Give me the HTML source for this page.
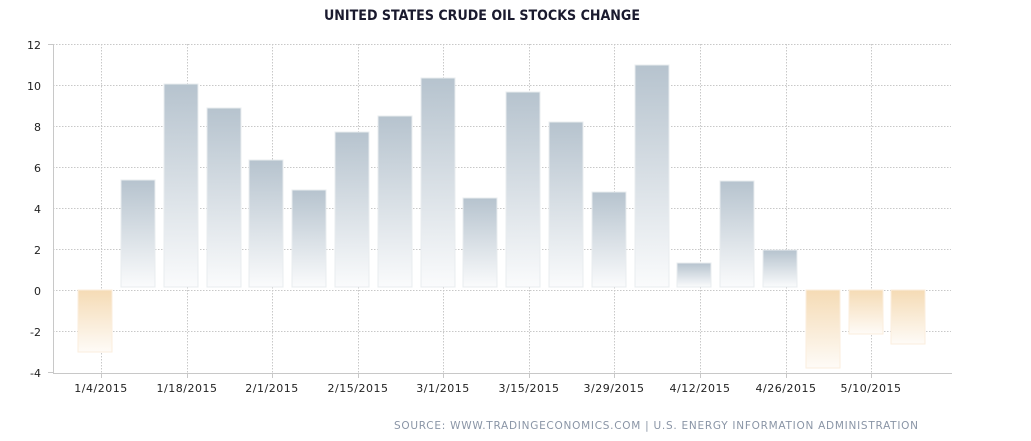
<!DOCTYPE html>
<html><head><meta charset="utf-8"><style>
html,body{margin:0;padding:0;background:#fff;width:1031px;height:441px;overflow:hidden}
svg{display:block}
text{font-family:"DejaVu Sans","Liberation Sans",sans-serif}
</style></head><body>
<svg width="1031" height="441" viewBox="0 0 1031 441" xmlns="http://www.w3.org/2000/svg">
<defs>
<linearGradient id="gp" x1="0" y1="0" x2="0" y2="1"><stop offset="0" stop-color="#b6c3ce"/><stop offset="1" stop-color="#fafbfc"/></linearGradient>
<linearGradient id="gn" x1="0" y1="0" x2="0" y2="1"><stop offset="0" stop-color="#f5dbb5"/><stop offset="1" stop-color="#fefbf7"/></linearGradient>
</defs>
<text x="482" y="20" text-anchor="middle" font-size="14" font-weight="bold" fill="#1a1a2e" textLength="316" lengthAdjust="spacingAndGlyphs">UNITED STATES CRUDE OIL STOCKS CHANGE</text>
<g stroke="#c8c8c8" stroke-width="1" stroke-dasharray="1.5,1.5">
<line x1="53" y1="44.5" x2="951" y2="44.5"/><line x1="53" y1="85.5" x2="951" y2="85.5"/><line x1="53" y1="126.5" x2="951" y2="126.5"/><line x1="53" y1="167.5" x2="951" y2="167.5"/><line x1="53" y1="208.5" x2="951" y2="208.5"/><line x1="53" y1="249.5" x2="951" y2="249.5"/><line x1="53" y1="290.5" x2="951" y2="290.5"/><line x1="53" y1="331.5" x2="951" y2="331.5"/>
<line x1="101.5" y1="44" x2="101.5" y2="373"/><line x1="187.5" y1="44" x2="187.5" y2="373"/><line x1="272.5" y1="44" x2="272.5" y2="373"/><line x1="358.5" y1="44" x2="358.5" y2="373"/><line x1="443.5" y1="44" x2="443.5" y2="373"/><line x1="529.5" y1="44" x2="529.5" y2="373"/><line x1="614.5" y1="44" x2="614.5" y2="373"/><line x1="700.5" y1="44" x2="700.5" y2="373"/><line x1="786.5" y1="44" x2="786.5" y2="373"/><line x1="871.5" y1="44" x2="871.5" y2="373"/>
</g>
<g stroke="#e8ecef" stroke-width="1">
<rect x="78" y="290" width="34" height="62" fill="url(#gn)" stroke="#fbeedd"/>
<rect x="121" y="180" width="34" height="107" fill="url(#gp)"/>
<rect x="164" y="84" width="34" height="203" fill="url(#gp)"/>
<rect x="207" y="108" width="34" height="179" fill="url(#gp)"/>
<rect x="249" y="160" width="34" height="127" fill="url(#gp)"/>
<rect x="292" y="190" width="34" height="97" fill="url(#gp)"/>
<rect x="335" y="132" width="34" height="155" fill="url(#gp)"/>
<rect x="378" y="116" width="34" height="171" fill="url(#gp)"/>
<rect x="421" y="78" width="34" height="209" fill="url(#gp)"/>
<rect x="463" y="198" width="34" height="89" fill="url(#gp)"/>
<rect x="506" y="92" width="34" height="195" fill="url(#gp)"/>
<rect x="549" y="122" width="34" height="165" fill="url(#gp)"/>
<rect x="592" y="192" width="34" height="95" fill="url(#gp)"/>
<rect x="635" y="65" width="34" height="222" fill="url(#gp)"/>
<rect x="677" y="263" width="34" height="24" fill="url(#gp)"/>
<rect x="720" y="181" width="34" height="106" fill="url(#gp)"/>
<rect x="763" y="250" width="34" height="37" fill="url(#gp)"/>
<rect x="806" y="290" width="34" height="78" fill="url(#gn)" stroke="#fbeedd"/>
<rect x="849" y="290" width="34" height="44" fill="url(#gn)" stroke="#fbeedd"/>
<rect x="891" y="290" width="34" height="54" fill="url(#gn)" stroke="#fbeedd"/>
</g>
<g stroke="#c8c8c8" stroke-width="1">
<line x1="53.5" y1="44" x2="53.5" y2="373"/><line x1="53" y1="373.5" x2="952" y2="373.5"/>
<line x1="48" y1="44.5" x2="53" y2="44.5"/><line x1="48" y1="372.5" x2="53" y2="372.5"/>
<line x1="101.5" y1="373" x2="101.5" y2="378"/><line x1="187.5" y1="373" x2="187.5" y2="378"/><line x1="272.5" y1="373" x2="272.5" y2="378"/><line x1="358.5" y1="373" x2="358.5" y2="378"/><line x1="443.5" y1="373" x2="443.5" y2="378"/><line x1="529.5" y1="373" x2="529.5" y2="378"/><line x1="614.5" y1="373" x2="614.5" y2="378"/><line x1="700.5" y1="373" x2="700.5" y2="378"/><line x1="786.5" y1="373" x2="786.5" y2="378"/><line x1="871.5" y1="373" x2="871.5" y2="378"/>
</g>
<g font-size="11" fill="#222" text-anchor="end">
<text x="41" y="49">12</text><text x="41" y="90">10</text><text x="41" y="131">8</text><text x="41" y="172">6</text><text x="41" y="213">4</text><text x="41" y="254">2</text><text x="41" y="295">0</text><text x="41" y="336">-2</text><text x="41" y="377">-4</text>
</g>
<g font-size="11" fill="#222" text-anchor="middle" letter-spacing="0.5">
<text x="101" y="392">1/4/2015</text><text x="187" y="392">1/18/2015</text><text x="272" y="392">2/1/2015</text><text x="358" y="392">2/15/2015</text><text x="443" y="392">3/1/2015</text><text x="529" y="392">3/15/2015</text><text x="614" y="392">3/29/2015</text><text x="700" y="392">4/12/2015</text><text x="786" y="392">4/26/2015</text><text x="871" y="392">5/10/2015</text>
</g>
<text x="394" y="429" font-size="10.5" fill="#8a95a6" textLength="524" lengthAdjust="spacing">SOURCE:  WWW.TRADINGECONOMICS.COM  |  U.S.  ENERGY  INFORMATION  ADMINISTRATION</text>
</svg>
</body></html>
